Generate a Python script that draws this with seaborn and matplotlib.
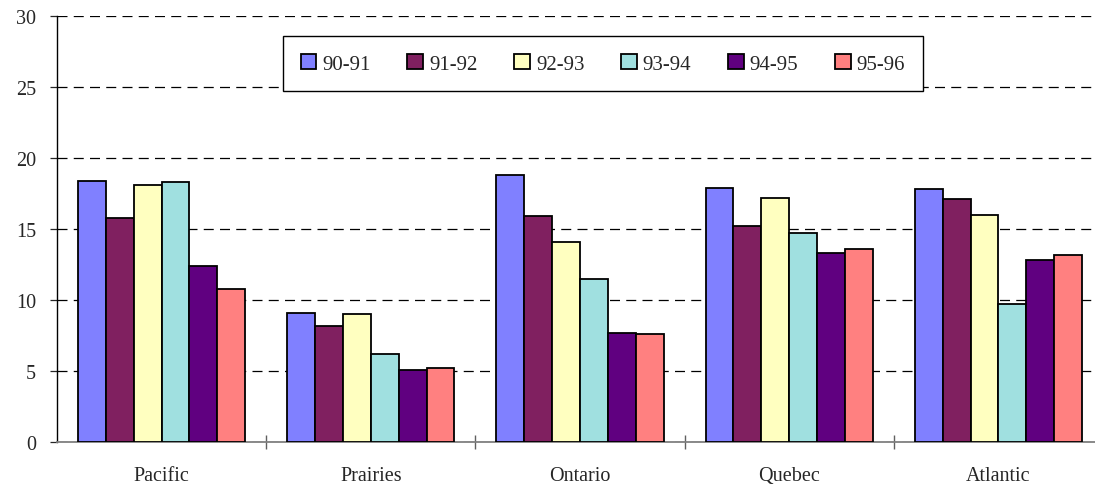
import pandas as pd
import numpy as np
import matplotlib
matplotlib.use("Agg")
import matplotlib.pyplot as plt
import seaborn as sns

regions = ["Pacific", "Prairies", "Ontario", "Quebec", "Atlantic"]
years = ["90-91", "91-92", "92-93", "93-94", "94-95", "95-96"]

v_90_91 = [18.4, 9.1, 18.8, 17.9, 17.8]
v_91_92 = [15.8, 8.2, 15.9, 15.2, 17.1]
v_92_93 = [18.1, 9.0, 14.1, 17.2, 16.0]
v_93_94 = [18.3, 6.2, 11.5, 14.7, 9.7]
v_94_95 = [12.4, 5.1, 7.7, 13.3, 12.8]
v_95_96 = [10.8, 5.2, 7.6, 13.6, 13.2]

colors = ["#8080FF", "#802060", "#FFFFC0", "#A0E0E0", "#600080", "#FF8080"]

series = [v_90_91, v_91_92, v_92_93, v_93_94, v_94_95, v_95_96]
df = pd.DataFrame({
    "region": np.tile(regions, len(years)),
    "year": np.repeat(years, len(regions)),
    "value": np.concatenate(series),
})

sns.set_style("white")
plt.rcParams["font.family"] = ["Liberation Serif", "DejaVu Serif"]

fig = plt.figure(figsize=(10.95, 4.85), dpi=100)
ax = fig.add_axes([57 / 1095, 1 - 443 / 485, 1046 / 1095, 426 / 485])

sns.barplot(data=df, x="region", y="value", hue="year", order=regions,
            hue_order=years, palette=colors, width=0.8, saturation=1,
            edgecolor="black", linewidth=1.3, ax=ax, zorder=3)

ax.set_ylim(0, 30)
ax.set_xlim(-0.5, 4.5)
ax.set_yticks(range(0, 31, 5))
ax.yaxis.grid(True, color="black", linestyle=(0, (8, 5)), linewidth=0.9, zorder=0)
ax.set_axisbelow(True)
ax.set_xlabel("")
ax.set_ylabel("")

for side in ["top", "right"]:
    ax.spines[side].set_visible(False)
ax.spines["left"].set_color("black")
ax.spines["left"].set_linewidth(1.0)
ax.spines["bottom"].set_color("#808080")
ax.spines["bottom"].set_linewidth(1.3)

ax.tick_params(axis="y", left=True, direction="out", length=5, width=0.9,
               labelsize=14.5, pad=10)
ax.tick_params(axis="x", bottom=False, labelsize=14.5, pad=14)
ax.set_xticks(np.arange(0.5, 4.5, 1), minor=True)
ax.tick_params(axis="x", which="minor", bottom=True, direction="inout",
               length=10, width=1.0, color="#606060")

leg = ax.legend(loc="upper left", bbox_to_anchor=((283 - 57) / 1046, (443 - 37) / 426),
                ncol=6, frameon=True, fancybox=False, shadow=False,
                fontsize=15, handlelength=0.75, handleheight=0.75,
                handletextpad=0.3, columnspacing=1.75, borderpad=0.85,
                borderaxespad=0)
leg.get_frame().set_edgecolor("black")
leg.get_frame().set_linewidth(1.0)
leg.get_frame().set_alpha(1)

fig.savefig("out.png", dpi=100)
